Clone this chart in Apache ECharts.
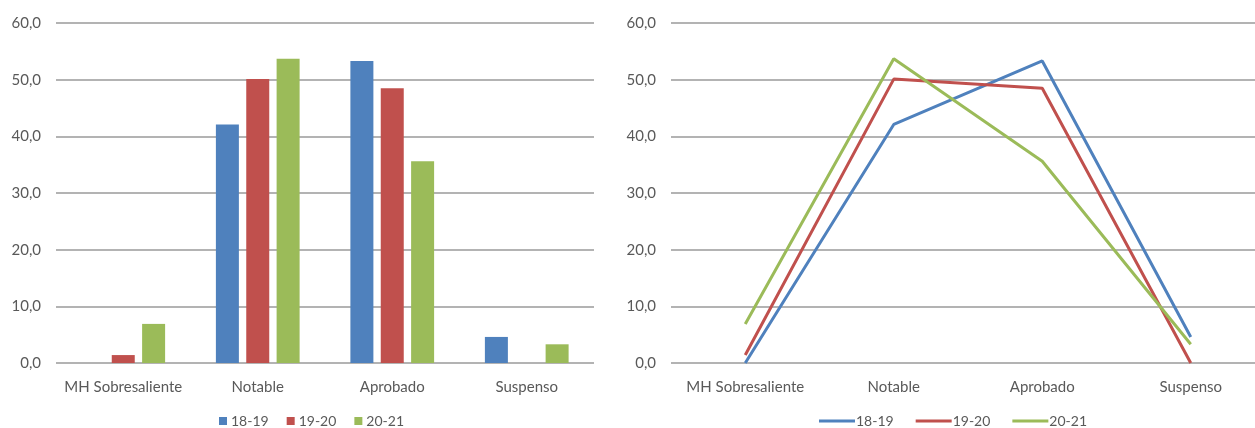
<!DOCTYPE html>
<html>
<head>
<meta charset="utf-8">
<script src="https://cdn.jsdelivr.net/npm/echarts@6/dist/echarts.min.js"></script>
<style>html,body{margin:0;padding:0;background:#fff;overflow:hidden}#c{width:1275px;height:428px}</style>
</head>
<body>
<div id="c"></div>
<script>
const categories = ['MH Sobresaliente', 'Notable', 'Aprobado', 'Suspenso'];
const seriesNames = ['18-19', '19-20', '20-21'];
const s1819 = [0, 42.1, 53.3, 4.6];
const s1920 = [1.4, 50.1, 48.5, 0];
const s2021 = [6.9, 53.7, 35.6, 3.3];
const yTicks = [0, 10, 20, 30, 40, 50, 60];
const colors = ['#4F81BD', '#C0504D', '#9BBB59'];
const values = [s1819, s1920, s2021];

const font = 'Lato';
const txt = '#595959';

function yAxis(gi) {
  return {
    gridIndex: gi, type: 'value', min: yTicks[0], max: yTicks[yTicks.length - 1], interval: 10,
    axisLine: { show: false }, axisTick: { show: false },
    axisLabel: { color: txt, fontFamily: font, fontSize: 15, margin: 15,
      formatter: v => v.toFixed(1).replace('.', ',') },
    splitLine: { lineStyle: { color: '#B3B3B3', width: 2 } }
  };
}
function xAxis(gi) {
  return {
    gridIndex: gi, type: 'category', data: categories, boundaryGap: true,
    axisLine: { show: false }, axisTick: { show: false },
    axisLabel: { color: txt, fontFamily: font, fontSize: 15, margin: 17, interval: 0 }
  };
}

const series = [];
seriesNames.forEach((n, i) => {
  series.push({ name: n, type: 'bar', xAxisIndex: 0, yAxisIndex: 0, data: values[i],
    barWidth: 23, barGap: '32%', itemStyle: { color: colors[i] } });
});
seriesNames.forEach((n, i) => {
  series.push({ name: n, type: 'line', xAxisIndex: 1, yAxisIndex: 1, data: values[i],
    showSymbol: false, symbol: 'none', lineStyle: { color: colors[i], width: 3 },
    itemStyle: { color: colors[i] } });
});

const option = {
  animation: false,
  backgroundColor: '#fff',
  grid: [
    { left: 56, top: 23, width: 538, height: 340 },
    { left: 671, top: 23, width: 594, height: 340 }
  ],
  xAxis: [xAxis(0), xAxis(1)],
  yAxis: [yAxis(0), yAxis(1)],
  legend: [
    { left: 219, top: 414, padding: 0, itemWidth: 8, itemHeight: 8, itemGap: 18, icon: 'rect',
      textStyle: { color: txt, fontFamily: font, fontSize: 14, padding: [0, 0, 0, -1] },
      data: seriesNames.map((n, i) => ({ name: n, icon: 'rect', itemStyle: { color: colors[i] } })) },
    { left: 819, top: 414, padding: 0, itemWidth: 36, itemHeight: 3, itemGap: 22, icon: 'rect',
      textStyle: { color: txt, fontFamily: font, fontSize: 14, padding: [0, 0, 0, -4] },
      data: seriesNames.map((n, i) => ({ name: n, icon: 'rect', itemStyle: { color: colors[i] } })) }
  ],
  series: series
};

const chart = echarts.init(document.getElementById('c'), null, { renderer: 'canvas' });
chart.setOption(option);
</script>
</body>
</html>
